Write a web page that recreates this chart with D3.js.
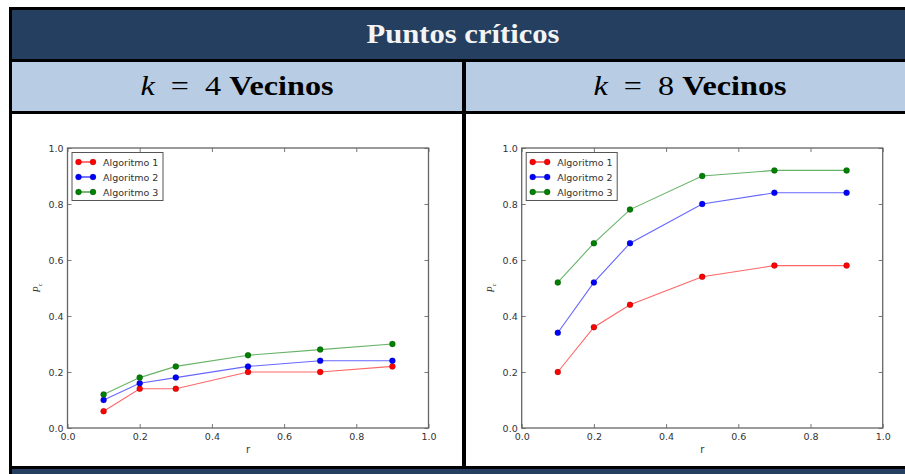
<!DOCTYPE html>
<html>
<head>
<meta charset="utf-8">
<script src="https://cdn.jsdelivr.net/npm/d3@7"></script>
<style>
  body { margin: 0; background: #fff; }
  svg { display: block; }
</style>
</head>
<body>
<svg id="chart" width="905" height="474"></svg>
<script>
// r values sampled on the horizontal axis
const rValues = [0.1, 0.2, 0.3, 0.5, 0.7, 0.9];
const seriesNames = ["Algoritmo 1", "Algoritmo 2", "Algoritmo 3"];
const seriesColors = ["#ff0000", "#0000ff", "#008000"];

// P_c per algorithm, k = 4 neighbours
const k4Alg1 = [0.06, 0.14, 0.14, 0.20, 0.20, 0.22];
const k4Alg2 = [0.10, 0.16, 0.18, 0.22, 0.24, 0.24];
const k4Alg3 = [0.12, 0.18, 0.22, 0.26, 0.28, 0.30];

// P_c per algorithm, k = 8 neighbours
const k8Alg1 = [0.20, 0.36, 0.44, 0.54, 0.58, 0.58];
const k8Alg2 = [0.34, 0.52, 0.66, 0.80, 0.84, 0.84];
const k8Alg3 = [0.52, 0.66, 0.78, 0.90, 0.92, 0.92];

const tickValues = [0, 0.2, 0.4, 0.6, 0.8, 1.0];
const titleText = "Puntos críticos";
const neighbourCounts = [4, 8];

const svg = d3.select("#chart");
const NAVY = "#243f60", LIGHT = "#b8cce4";

// ---- table frame ----
svg.append("rect").attr("x", 0).attr("y", 0).attr("width", 905).attr("height", 474).attr("fill", "#fff");
svg.append("rect").attr("x", 9).attr("y", 7).attr("width", 900).attr("height", 467).attr("fill", "#000");
svg.append("rect").attr("x", 12).attr("y", 10).attr("width", 893).attr("height", 49).attr("fill", NAVY);
svg.append("rect").attr("x", 12).attr("y", 62).attr("width", 450).attr("height", 49).attr("fill", LIGHT);
svg.append("rect").attr("x", 466).attr("y", 62).attr("width", 439).attr("height", 49).attr("fill", LIGHT);
svg.append("rect").attr("x", 12).attr("y", 114).attr("width", 450).attr("height", 352).attr("fill", "#fff");
svg.append("rect").attr("x", 466).attr("y", 114).attr("width", 439).attr("height", 352).attr("fill", "#fff");
svg.append("rect").attr("x", 12).attr("y", 469).attr("width", 893).attr("height", 5).attr("fill", NAVY);

const serif = "'Liberation Serif', 'DejaVu Serif', serif";

svg.append("text")
  .attr("x", 463).attr("y", 43)
  .attr("text-anchor", "middle")
  .attr("font-family", serif).attr("font-weight", "bold").attr("font-size", 27)
  .attr("textLength", 193).attr("lengthAdjust", "spacingAndGlyphs")
  .attr("fill", "#f4f4f4")
  .text(titleText);

const headerCenters = [237, 690];
neighbourCounts.forEach((k, i) => {
  const t = svg.append("text")
    .attr("x", headerCenters[i]).attr("y", 95)
    .attr("text-anchor", "middle")
    .attr("font-family", serif).attr("font-size", 27)
    .attr("textLength", 193).attr("lengthAdjust", "spacingAndGlyphs")
    .attr("fill", "#000");
  t.append("tspan").attr("font-style", "italic").text("k");
  t.append("tspan").text("\u2002=\u2002" + k + " ");
  t.append("tspan").attr("font-weight", "bold").text("Vecinos");
});

// ---- plots ----
const sansFont = "'DejaVu Sans', sans-serif";
const fmt = d3.format(".1f");

function drawPanel(left, seriesList) {
  const x = d3.scaleLinear().domain([0, 1]).range([left, left + 361]);
  const y = d3.scaleLinear().domain([0, 1]).range([428, 148]);
  const g = svg.append("g");

  const styleAxis = sel => {
    sel.select(".domain").remove();
    sel.selectAll(".tick line").attr("stroke", "#555").attr("stroke-width", 0.8);
    sel.selectAll(".tick text").attr("fill", "#333").attr("font-family", sansFont).attr("font-size", 9.5);
  };

  g.append("g").attr("transform", `translate(0,${y(0)})`)
    .call(d3.axisBottom(x).tickValues(tickValues).tickFormat(fmt).tickSize(-4).tickPadding(5))
    .call(styleAxis);
  g.append("g").attr("transform", `translate(0,${y(1)})`)
    .call(d3.axisTop(x).tickValues(tickValues).tickFormat("").tickSize(-4))
    .call(styleAxis);
  g.append("g").attr("transform", `translate(${x(0)},0)`)
    .call(d3.axisLeft(y).tickValues(tickValues).tickFormat(fmt).tickSize(-4).tickPadding(4))
    .call(styleAxis);
  g.append("g").attr("transform", `translate(${x(1)},0)`)
    .call(d3.axisRight(y).tickValues(tickValues).tickFormat("").tickSize(-4))
    .call(styleAxis);

  g.append("rect")
    .attr("x", x(0)).attr("y", y(1))
    .attr("width", x(1) - x(0)).attr("height", y(0) - y(1))
    .attr("fill", "none").attr("stroke", "#666").attr("stroke-width", 1.3);

  // axis titles
  g.append("text")
    .attr("x", (x(0) + x(1)) / 2).attr("y", 453)
    .attr("text-anchor", "middle")
    .attr("font-family", sansFont).attr("font-size", 10).attr("fill", "#333")
    .text("r");
  const yl = g.append("text")
    .attr("transform", `translate(${x(0) - 28},${y(0.5)}) rotate(-90)`)
    .attr("text-anchor", "middle")
    .attr("font-family", serif).attr("font-size", 10).attr("fill", "#333");
  yl.append("tspan").attr("font-style", "italic").text("P");
  yl.append("tspan").attr("font-size", 6).attr("dy", 2).text("c");

  const line = d3.line().x((d, i) => x(rValues[i])).y(d => y(d));
  seriesList.forEach((vals, s) => {
    g.append("path").datum(vals)
      .attr("d", line)
      .attr("fill", "none")
      .attr("stroke", seriesColors[s])
      .attr("stroke-opacity", 0.6)
      .attr("stroke-width", 1.1);
    g.selectAll(null).data(vals).join("circle")
      .attr("cx", (d, i) => x(rValues[i]))
      .attr("cy", d => y(d))
      .attr("r", 3)
      .attr("fill", seriesColors[s])
      .attr("stroke", "#000").attr("stroke-width", 0.3).attr("stroke-opacity", 0.6);
  });

  // legend
  const lx = x(0) + 4.5, ly = y(1) + 4.5;
  const lg = g.append("g");
  lg.append("rect")
    .attr("x", lx).attr("y", ly).attr("width", 91).attr("height", 48)
    .attr("fill", "#fff").attr("stroke", "#555").attr("stroke-width", 1);
  seriesNames.forEach((name, s) => {
    const cy = ly + 9.5 + s * 15;
    lg.append("line")
      .attr("x1", lx + 6.5).attr("x2", lx + 21)
      .attr("y1", cy).attr("y2", cy)
      .attr("stroke", seriesColors[s]).attr("stroke-width", 1.1);
    [lx + 6.5, lx + 21].forEach(cx => {
      lg.append("circle").attr("cx", cx).attr("cy", cy).attr("r", 3)
        .attr("fill", seriesColors[s])
        .attr("stroke", "#000").attr("stroke-width", 0.3).attr("stroke-opacity", 0.6);
    });
    lg.append("text")
      .attr("x", lx + 31).attr("y", cy + 3.5)
      .attr("font-family", sansFont).attr("font-size", 9.5).attr("fill", "#333")
      .text(name);
  });
}

drawPanel(67.5, [k4Alg1, k4Alg2, k4Alg3]);
drawPanel(521.7, [k8Alg1, k8Alg2, k8Alg3]);
</script>
</body>
</html>
